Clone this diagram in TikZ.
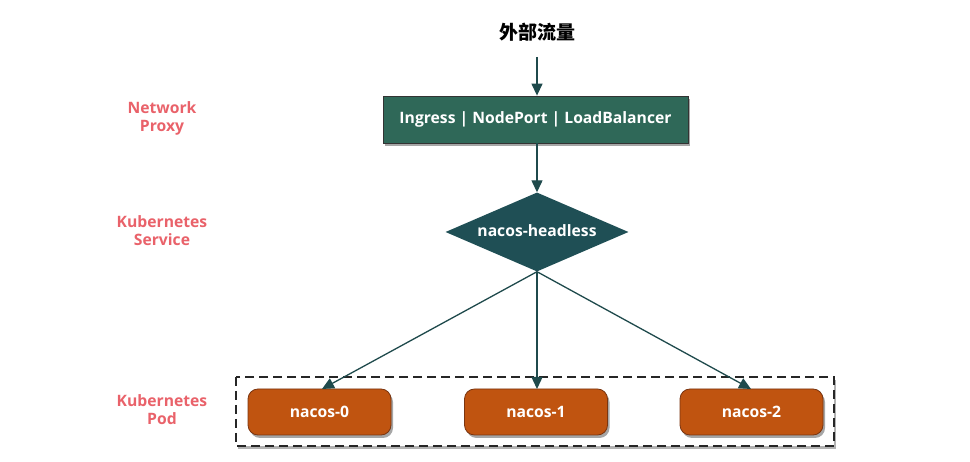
\documentclass[tikz,border=0pt]{standalone}
\usepackage{fontspec}
\setmainfont{Open Sans}
\newfontfamily\cjk{Noto Sans CJK SC}
\usetikzlibrary{shapes.geometric,shadows,arrows.meta}
\definecolor{ingfill}{HTML}{2F6858}
\definecolor{diafill}{HTML}{1F4F55}
\definecolor{arrowc}{HTML}{1F4A4C}
\definecolor{podfill}{HTML}{C05410}
\definecolor{podline}{HTML}{7A3510}
\definecolor{labelc}{HTML}{E9626A}
\tikzset{
  shad/.style={drop shadow={shadow xshift=2pt,shadow yshift=-3pt,opacity=0.35,fill=black}},
  txt/.style={font=\bfseries\fontsize{15.7}{18}\selectfont},
  ingbox/.style={draw=black!80,line width=0.8pt,fill=ingfill,minimum width=305pt,minimum height=47pt,inner sep=0pt,text=white,txt,shad},
  diabox/.style={diamond,fill=diafill,minimum width=183pt,minimum height=79pt,aspect=2.3,inner sep=0pt},
  podbox/.style={rounded corners=10pt,draw=podline,line width=0.8pt,fill=podfill,minimum width=143pt,minimum height=46pt,inner sep=0pt,text=white,txt,shad},
  lbl/.style={text=labelc,align=center,txt},
  grpbox/.style={draw=black!85,line width=1.4pt,dash pattern=on 9pt off 5pt,fill=white,drop shadow={shadow xshift=2pt,shadow yshift=-3pt,opacity=0.3,fill=black}},
  conn/.style={draw=arrowc,line width=1.3pt,-{Triangle[length=12pt,width=11pt]}}
}
\begin{document}
\begin{tikzpicture}[x=1pt,y=-1pt]
\useasboundingbox (0,0) rectangle (970,462);
\node[font=\cjk\bfseries\fontsize{19}{21}\selectfont] (title) at (537,32) {外部流量};
\coordinate (tbot) at (537,57);
\node[ingbox] (ing) at (535.5,119.5) {Ingress | NodePort | LoadBalancer};
\node[diabox] (svc) at (537,232) {};
\node[text=white,txt] (svct) at (537,231) {nacos-headless};
\draw[grpbox] (236,377) rectangle (834,446);
\node[podbox] (p0) at (319.5,412) {nacos-0};
\node[podbox] (p1) at (536,412) {nacos-1};
\node[podbox] (p2) at (751.5,412) {nacos-2};
\coordinate (a0) at (322,389);
\coordinate (a1) at (537,389);
\coordinate (a2) at (751,389);
\draw[conn] (tbot) -- (ing.north -| tbot);
\draw[conn] (ing.south -| svc.north) -- (svc.north);
\draw[conn] (svc.south) -- (a0);
\draw[conn] (svc.south) -- (a1);
\draw[conn] (svc.south) -- (a2);
\node[lbl] (l1) at (162,118) {Network\\Proxy};
\node[lbl] (l2) at (162,231) {Kubernetes\\Service};
\node[lbl] (l3) at (162,410) {Kubernetes\\Pod};
\end{tikzpicture}
\end{document}
